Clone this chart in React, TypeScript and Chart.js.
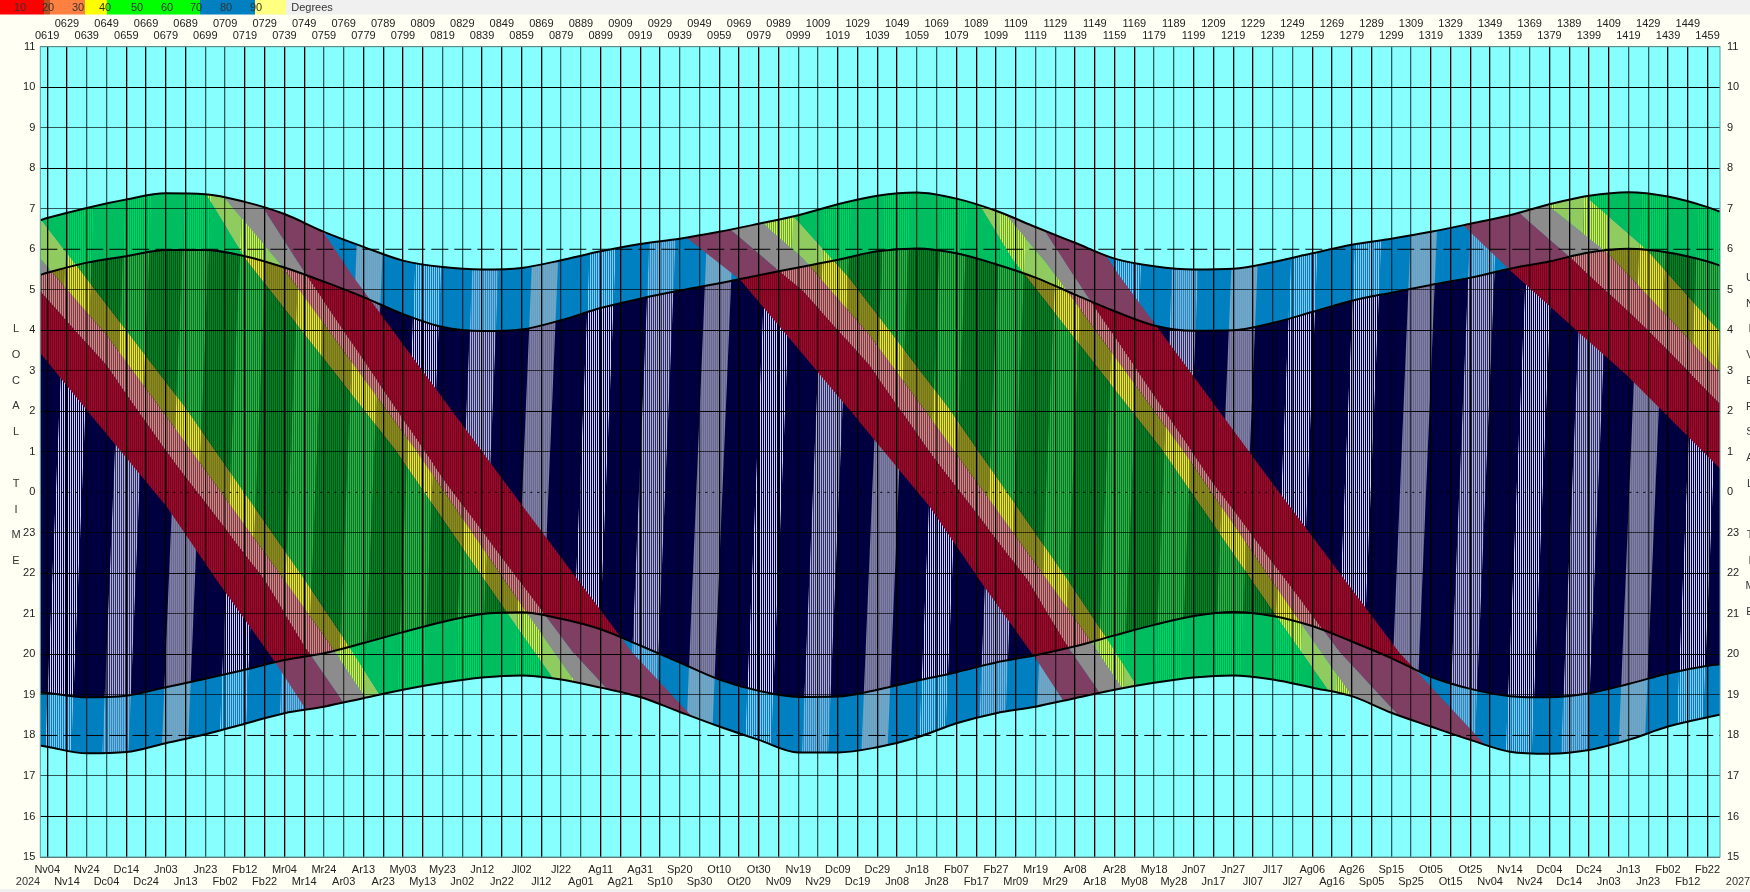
import React, { useEffect, useRef } from "react";
import { Chart, registerables } from "chart.js";

// ---------- data ----------
const topUpperRow = ["0629","0649","0669","0689","0709","0729","0749","0769","0789","0809","0829","0849","0869","0889","0909","0929","0949","0969","0989","1009","1029","1049","1069","1089","1109","1129","1149","1169","1189","1209","1229","1249","1269","1289","1309","1329","1349","1369","1389","1409","1429","1449"];
const topLowerRow = ["0619","0639","0659","0679","0699","0719","0739","0759","0779","0799","0819","0839","0859","0879","0899","0919","0939","0959","0979","0999","1019","1039","1059","1079","1099","1119","1139","1159","1179","1199","1219","1239","1259","1279","1299","1319","1339","1359","1379","1399","1419","1439","1459"];
const bottomUpperRow = ["Nv04","Nv24","Dc14","Jn03","Jn23","Fb12","Mr04","Mr24","Ar13","My03","My23","Jn12","Jl02","Jl22","Ag11","Ag31","Sp20","Ot10","Ot30","Nv19","Dc09","Dc29","Jn18","Fb07","Fb27","Mr19","Ar08","Ar28","My18","Jn07","Jn27","Jl17","Ag06","Ag26","Sp15","Ot05","Ot25","Nv14","Dc04","Dc24","Jn13","Fb02","Fb22"];
const bottomLowerRow = ["Nv14","Dc04","Dc24","Jn13","Fb02","Fb22","Mr14","Ar03","Ar23","My13","Jn02","Jn22","Jl12","Ag01","Ag21","Sp10","Sp30","Ot20","Nv09","Nv29","Dc19","Jn08","Jn28","Fb17","Mr09","Mr29","Ar18","My08","My28","Jn17","Jl07","Jl27","Ag16","Sp05","Sp25","Ot15","Nv04","Nv24","Dc14","Jn03","Jn23","Fb12"];
const hourTicks = [-9,-8,-7,-6,-5,-4,-3,-2,-1,0,1,2,3,4,5,6,7,8,9,10,11];
const hourLabels = ["15","16","17","18","19","20","21","22","23","0","1","2","3","4","5","6","7","8","9","10","11"];
const legendLabels = ["10","20","30","40","50","60","70","80","90"];
const leftTitle = ["L","O","C","A","L","","T","I","M","E"];
const rightTitle = ["U","N","I","V","E","R","S","A","L","","T","I","M","E"];

const dayMin = 615.5;
const dayMax = 1465.3;
const tickDaysUpper = [629,649,669,689,709,729,749,769,789,809,829,849,869,889,909,929,949,969,989,1009,1029,1049,1069,1089,1109,1129,1149,1169,1189,1209,1229,1249,1269,1289,1309,1329,1349,1369,1389,1409,1429,1449];
const tickDaysLower = [619,639,659,679,699,719,739,759,779,799,819,839,859,879,899,919,939,959,979,999,1019,1039,1059,1079,1099,1119,1139,1159,1179,1199,1219,1239,1259,1279,1299,1319,1339,1359,1379,1399,1419,1439,1459];

const curveDays = [615.5,619,639,659,679,699,719,739,759,779,799,819,839,859,879,899,919,939,959,979,999,1019,1039,1059,1079,1099,1119,1139,1159,1179,1199,1219,1239,1259,1279,1299,1319,1339,1359,1379,1399,1419,1439,1459,1465.3];
const dawnOuter = [6.72,6.77,7.02,7.23,7.38,7.36,7.17,6.87,6.43,6.06,5.72,5.56,5.50,5.54,5.73,5.95,6.13,6.26,6.43,6.63,6.84,7.11,7.32,7.40,7.25,6.95,6.55,6.16,5.77,5.58,5.50,5.52,5.68,5.90,6.11,6.26,6.43,6.63,6.84,7.11,7.32,7.41,7.30,7.04,6.93];
const dawnInner = [5.37,5.42,5.67,5.83,5.98,5.98,5.83,5.55,5.20,4.82,4.40,4.08,3.98,4.02,4.25,4.55,4.78,4.98,5.16,5.36,5.55,5.74,5.95,6.02,5.90,5.63,5.30,4.88,4.47,4.12,3.99,4.00,4.18,4.45,4.73,4.93,5.12,5.30,5.52,5.70,5.92,6.01,5.92,5.70,5.60];
const duskInner = [-4.94,-4.95,-5.06,-5.02,-4.81,-4.60,-4.38,-4.14,-3.97,-3.72,-3.45,-3.20,-3.00,-2.96,-3.12,-3.38,-3.78,-4.20,-4.62,-4.90,-5.05,-5.04,-4.87,-4.65,-4.44,-4.20,-4.02,-3.80,-3.53,-3.27,-3.05,-2.95,-3.05,-3.30,-3.68,-4.09,-4.55,-4.85,-5.03,-5.06,-4.96,-4.73,-4.47,-4.28,-4.24];
const duskOuter = [-6.25,-6.28,-6.44,-6.41,-6.19,-5.97,-5.71,-5.45,-5.29,-5.08,-4.87,-4.70,-4.57,-4.52,-4.62,-4.82,-5.05,-5.42,-5.78,-6.11,-6.42,-6.42,-6.29,-6.05,-5.70,-5.45,-5.29,-5.08,-4.87,-4.70,-4.57,-4.52,-4.62,-4.82,-5.03,-5.44,-5.78,-6.11,-6.40,-6.45,-6.36,-6.11,-5.78,-5.55,-5.49];

// altitude contour lines: [day, hour]
const a10 = [[615.3,3.45],[639,2.03],[679.4,-0.35],[704.7,-2.16],[734.2,-4.18],[749.4,-5.32],[765,-6.4]];
const a20 = [[615.3,4.97],[649,3.14],[679.4,1.0],[729,-2.16],[749.4,-3.81],[768.6,-5.16],[785,-6.2]];
const a30 = [[615.3,5.78],[649,3.89],[679.4,1.87],[739,-2.16],[759.5,-3.57],[779.7,-5.04],[795,-6.1]];
const a40 = [[615.3,6.77],[638.9,5.28],[688.7,2.11],[749.4,-2.16],[768.6,-3.57],[787.3,-5.0],[800,-6.0]];
const b40 = [[699.6,7.34],[719,5.78],[795,1.05],[852,-3.0],[880,-4.95],[897,-6]];
const b30 = [[708.9,7.26],[736.7,5.65],[806,1.0],[862,-3.0],[890,-4.95],[907,-6]];
const b20 = [[728.3,7.01],[749.4,5.41],[820.5,0.25],[885,-3.95],[929,-6.26]];
const b10 = [[758.6,6.43],[773.8,5.32],[850.5,0.25],[915,-3.95],[959,-6.26]];
const c10 = [[942.4,6.29],[969.7,5.24],[1025,2.03],[1065.4,-0.35],[1090.7,-2.16],[1120.2,-4.18],[1135.4,-5.32],[1151,-6.4]];
const c20 = [[964,6.52],[1001.3,4.97],[1035,3.14],[1065.4,1.0],[1115,-2.16],[1135.4,-3.81],[1154.6,-5.16],[1171,-6.2]];
const c30 = [[981,6.65],[1001.3,5.78],[1035,3.89],[1065.4,1.87],[1125,-2.16],[1145.5,-3.57],[1165.7,-5.04],[1181,-6.1]];
const c40 = [[996.7,6.81],[1025,5.28],[1074.7,2.11],[1135.4,-2.16],[1154.6,-3.57],[1173.3,-5.0],[1186,-6.0]];
const d40 = [[1087.6,7.34],[1107,5.78],[1183,1.05],[1240,-3.0],[1268,-4.95],[1285,-6]];
const d30 = [[1096.9,7.26],[1124.7,5.65],[1194,1.0],[1250,-3.0],[1278,-4.95],[1295,-6]];
const d20 = [[1116.3,7.01],[1137.4,5.41],[1208.5,0.25],[1273,-3.95],[1317,-6.26]];
const d10 = [[1146.6,6.43],[1161.8,5.32],[1238.5,0.25],[1303,-3.95],[1347,-6.26]];
const e10 = [[1336,6.56],[1358.9,5.49],[1394.3,3.93],[1417.9,2.9],[1465,0.6],[1475,0.1]];
const e20 = [[1364,6.89],[1389,5.82],[1428,4.05],[1465,2.2],[1475,1.7]];
const e30 = [[1378,7.09],[1408.6,5.9],[1428,4.9],[1465,2.98],[1475,2.4]];
const e40 = [[1398.4,7.26],[1428,6.0],[1465,3.97],[1475,3.4]];
const chartRightEdge = [[1480,8],[1480,-8]];

// moonlit nights: middle day of each bright spell at local midnight, and how crisp its stripes look
const moonMid = [630,659,689,718,748,777,807,836,866,895,925,954,984,1013,1043,1072,1102,1131,1161,1190,1220,1250,1282,1310,1340,1369,1397,1426,1455];
const moonLook = "CHGCHGCHGCHGCHGCHGCHGCCGHCHGC";
const moonHalfWidth = 6.6;
const moonEdgeTop = [8, 6.8];
const moonEdgeBottom = [-7, -6];

const SWATCHES = [[0,44,"#ff0000"],[44,50,"#b85020"],[50,85,"#ff8040"],[85,107,"#ffff00"],[107,200,"#00ff00"],[200,255,"#0080c0"],[255,286,"#ffff80"]];
const LEGEND_X = [20,48,78,105,137,167,196,226,256];
const FONT = "'Liberation Sans', Arial, sans-serif";

function stripe(a: string, b: string) {
  const c = document.createElement("canvas");
  c.width = 2; c.height = 1;
  const g = c.getContext("2d")!;
  g.fillStyle = a; g.fillRect(0, 0, 1, 1);
  g.fillStyle = b; g.fillRect(1, 0, 1, 1);
  return g.createPattern(c, "repeat")!;
}

const capped = (l: number[][]) => [[l[0][0], 9], ...l, [l[l.length - 1][0], -8]];
const band = (l1: number[][], l2: number[][]) => [...capped(l1), ...capped(l2).reverse()];
const xy = (p: number[]) => ({ x: p[0], y: p[1] });
const joined = (polys: number[][][]) => {
  const out: any[] = [];
  polys.forEach((p, i) => { if (i) out.push({ x: null, y: null }); p.forEach((q) => out.push(xy(q))); });
  return out;
};
const moonPolys = (kind?: string) =>
  moonMid
    .filter((_, i) => !kind || moonLook[i] === kind)
    .map((m) => [
      [m - moonHalfWidth + moonEdgeBottom[1], moonEdgeBottom[0]],
      [m + moonHalfWidth + moonEdgeBottom[1], moonEdgeBottom[0]],
      [m + moonHalfWidth + moonEdgeTop[1], moonEdgeTop[0]],
      [m - moonHalfWidth + moonEdgeTop[1], moonEdgeTop[0]],
    ]);

const redBands = [band(a10, a20), band(b20, b10), band(c10, c20), band(d20, d10), band(e10, e20)];
const pinkBands = [band(a20, a30), band(b30, b20), band(c20, c30), band(d30, d20), band(e20, e30)];
const yellowBands = [band(a30, a40), band(b40, b30), band(c30, c40), band(d40, d30), band(e30, e40)];
const greenBands = [band(a40, b40), band(c40, d40), band(e40, chartRightEdge)];

const zoneClip = {
  id: "zoneClip",
  beforeDatasetDraw(chart: any, args: any) {
    const ds = chart.data.datasets[args.index];
    if (!ds.zone) return;
    const { ctx } = chart;
    const X = chart.scales.x, Y = chart.scales.y;
    const [up, low] = ds.zone;
    ctx.save();
    ctx.beginPath();
    curveDays.forEach((d, i) => {
      const px = X.getPixelForValue(d), py = Y.getPixelForValue(up[i]);
      if (i) ctx.lineTo(px, py); else ctx.moveTo(px, py);
    });
    for (let i = curveDays.length - 1; i >= 0; i--) ctx.lineTo(X.getPixelForValue(curveDays[i]), Y.getPixelForValue(low[i]));
    ctx.closePath();
    ctx.clip();
    if (ds.within) {
      ctx.beginPath();
      ds.within.forEach((p: number[][]) => {
        p.forEach((q, i) => {
          const px = X.getPixelForValue(q[0]), py = Y.getPixelForValue(q[1]);
          if (i) ctx.lineTo(px, py); else ctx.moveTo(px, py);
        });
        ctx.closePath();
      });
      ctx.clip();
    }
  },
  afterDatasetDraw(chart: any, args: any) {
    if (chart.data.datasets[args.index].zone) chart.ctx.restore();
  },
};
Chart.register(zoneClip as any);
Chart.register(...registerables);

const frame = {
  id: "frame",
  beforeDraw(chart: any) {
    const { ctx, chartArea: a, width, height } = chart;
    ctx.save();
    ctx.fillStyle = "#fffff4";
    ctx.fillRect(0, 0, width, height);
    ctx.fillStyle = "#f0f0f0";
    ctx.fillRect(0, 0, width, 14.5);
    ctx.fillRect(0, 889, width, 3);
    SWATCHES.forEach(([x0, x1, c]: any) => { ctx.fillStyle = c; ctx.fillRect(x0, 0, x1 - x0, 14.5); });
    ctx.fillStyle = "#88ffff";
    ctx.fillRect(a.left, a.top, a.right - a.left, a.bottom - a.top);
    ctx.restore();
  },
  afterDraw(chart: any) {
    const { ctx, chartArea: a } = chart;
    ctx.save();
    ctx.strokeStyle = "#5c9a9a";
    ctx.lineWidth = 1;
    ctx.strokeRect(a.left, a.top, a.right - a.left, a.bottom - a.top);
    ctx.font = `11px ${FONT}`;
    ctx.fillStyle = "#333";
    ctx.textBaseline = "middle";
    ctx.textAlign = "center";
    legendLabels.forEach((t, i) => ctx.fillText(t, LEGEND_X[i], 7.5));
    ctx.fillText("Degrees", 312, 8);
    ctx.fillText("2024", 28, 881.7);
    ctx.fillText("2027", 1738, 881.7);
    leftTitle.forEach((t, i) => t && ctx.fillText(t, 16, 329 + i * 25.8));
    rightTitle.forEach((t, i) => t && ctx.fillText(t, 1750, 278 + i * 25.7));
    ctx.restore();
  },
};

const polyDs = (data: any[], color: any, extra: any = {}) => ({
  type: "line", data, backgroundColor: color, fill: "shape", borderWidth: 0, pointRadius: 0, tension: 0, ...extra,
});
const lineDs = (days: number[], vals: number[], extra: any = {}) => ({
  type: "line", data: days.map((d, i) => ({ x: d, y: vals[i] })), borderColor: "#000", borderWidth: 2,
  pointRadius: 0, cubicInterpolationMode: "monotone", fill: false, ...extra,
});

function buildDatasets() {
  const outer = [dawnOuter, duskOuter];
  const inner = [dawnInner, duskInner];
  const out: any[] = [];
  const twilightMoon: any = { C: stripe("#88c8f0", "#0080c0"), H: stripe("#70b8e0", "#3088c0"), G: stripe("#70a8c8", "#68a0c4") };
  const nightMoon: any = { C: stripe("#cfcfff", "#000040"), H: stripe("#b0b0e0", "#303060"), G: stripe("#8080a4", "#686890") };

  // twilight strip
  out.push(lineDs(curveDays, dawnOuter, { borderWidth: 0, backgroundColor: "#0080c0", fill: { target: 1, above: "#0080c0", below: "#0080c0" } }));
  out.push(lineDs(curveDays, duskOuter, { borderWidth: 0 }));
  ["C", "H", "G"].forEach((k) => out.push(polyDs(joined(moonPolys(k)), twilightMoon[k], { zone: outer })));
  out.push(polyDs(joined(redBands), "#7f3f62", { zone: outer }));
  out.push(polyDs(joined(pinkBands), "#8c8c8c", { zone: outer }));
  out.push(polyDs(joined(yellowBands), "#8fcb5e", { zone: outer }));
  out.push(polyDs(joined(greenBands), "#00be60", { zone: outer }));
  out.push(polyDs(joined(moonPolys()), stripe("#c8f850", "#6ea03c"), { zone: outer, within: yellowBands }));
  out.push(polyDs(joined(moonPolys()), stripe("#00d468", "#00b050"), { zone: outer, within: greenBands }));

  // full night
  const innerTop = out.length;
  out.push(lineDs(curveDays, dawnInner, { borderWidth: 0, backgroundColor: "#000040", fill: { target: innerTop + 1, above: "#000040", below: "#000040" } }));
  out.push(lineDs(curveDays, duskInner, { borderWidth: 0 }));
  ["C", "H", "G"].forEach((k) => out.push(polyDs(joined(moonPolys(k)), nightMoon[k], { zone: inner })));
  out.push(polyDs(joined(redBands), stripe("#7c0020", "#960c2c"), { zone: inner }));
  out.push(polyDs(joined(pinkBands), stripe("#d08888", "#7c3c44"), { zone: inner }));
  out.push(polyDs(joined(yellowBands), stripe("#8c8c1e", "#74741a"), { zone: inner }));
  out.push(polyDs(joined(greenBands), stripe("#0c8028", "#005c14"), { zone: inner }));
  out.push(polyDs(joined(moonPolys()), stripe("#e8e83c", "#808018"), { zone: inner, within: yellowBands }));
  out.push(polyDs(joined(moonPolys()), stripe("#34b048", "#067826"), { zone: inner, within: greenBands }));

  // edges and marked hours
  out.push(lineDs(curveDays, dawnOuter));
  out.push(lineDs(curveDays, dawnInner));
  out.push(lineDs(curveDays, duskInner));
  out.push(lineDs(curveDays, duskOuter));
  const span = [dayMin, dayMax];
  out.push(lineDs(span, [6, 6], { borderWidth: 1, borderDash: [17, 6] }));
  out.push(lineDs(span, [-6, -6], { borderWidth: 1, borderDash: [17, 6] }));
  out.push(lineDs(span, [0, 0], { borderWidth: 1, borderDash: [2, 5] }));
  return out.map((d, i) => ({ ...d, order: out.length - i }));
}

const tickFont = { family: FONT, size: 11 };
const xAxis = (days: number[], labels: string[], position: string, weight: number, pad: number, height: number, extra: any = {}) => ({
  type: "linear", position, min: dayMin, max: dayMax, weight,
  afterBuildTicks: (s: any) => { s.ticks = days.map((value) => ({ value })); },
  afterFit: (s: any) => { s.height = height; },
  grid: { display: false, drawTicks: false },
  border: { display: false },
  ticks: {
    autoSkip: false, maxRotation: 0, minRotation: 0, padding: pad, color: "#222", font: tickFont,
    callback: (v: number) => labels[days.indexOf(v)],
  },
  ...extra,
});
const yAxis = (position: string, width: number, pad: number, extra: any = {}) => ({
  type: "linear", position, min: -9, max: 11,
  afterBuildTicks: (s: any) => { s.ticks = hourTicks.map((value) => ({ value })); },
  afterFit: (s: any) => { s.width = width; },
  grid: { display: false, drawTicks: false },
  border: { display: false },
  ticks: {
    autoSkip: false, padding: pad, color: "#222", font: tickFont,
    callback: (v: number) => hourLabels[hourTicks.indexOf(v)],
  },
  ...extra,
});

export default function App() {
  const ref = useRef<HTMLCanvasElement>(null);
  useEffect(() => {
    document.body.style.margin = "0";
    const allDays = [...tickDaysLower, ...tickDaysUpper].sort((a, b) => a - b);
    const chart = new Chart(ref.current!, {
      type: "line",
      data: { datasets: buildDatasets() as any },
      plugins: [frame as any],
      options: {
        animation: false,
        responsive: false,
        devicePixelRatio: 1,
        events: [],
        layout: { padding: { left: 0, right: 0, top: 18, bottom: 4 } },
        plugins: { legend: { display: false }, tooltip: { enabled: false }, title: { display: false } },
        scales: {
          x: xAxis(tickDaysLower, bottomUpperRow, "bottom", 1, 6, 18, {
            afterBuildTicks: (s: any) => { s.ticks = allDays.map((value) => ({ value })); },
            grid: {
              display: true, drawTicks: false, z: 1, lineWidth: 1.3,
              color: (c: any) => (c.index % 6 === 2 || c.index % 6 === 3 ? "rgba(0,0,0,0.65)" : "#000"),
            },
            ticks: {
              autoSkip: false, maxRotation: 0, minRotation: 0, padding: 6, color: "#222", font: tickFont,
              callback: (v: number) => { const i = tickDaysLower.indexOf(v); return i >= 0 ? bottomUpperRow[i] : ""; },
            },
          }),
          xBottomOuter: xAxis(tickDaysUpper, bottomLowerRow, "bottom", 2, 0, 13),
          xTopInner: xAxis(tickDaysLower, topLowerRow, "top", 1, 4.6, 15.7),
          xTopOuter: xAxis(tickDaysUpper, topUpperRow, "top", 2, 0, 13),
          y: yAxis("left", 40.3, 5, {
            grid: {
              display: true, drawTicks: false, z: 1, lineWidth: 1,
              color: (c: any) => {
                const v = c.tick && c.tick.value;
                if (v === 6 || v === -6 || v === 0) return "rgba(0,0,0,0)";
                return Math.abs(v) % 2 === 1 ? "rgba(0,0,0,0.65)" : "#000";
              },
            },
          }),
          yRight: yAxis("right", 30, 7),
        },
      } as any,
    });
    return () => chart.destroy();
  }, []);
  return <canvas ref={ref} width={1750} height={892} style={{ display: "block", position: "absolute", left: 0, top: 0 }} />;
}
